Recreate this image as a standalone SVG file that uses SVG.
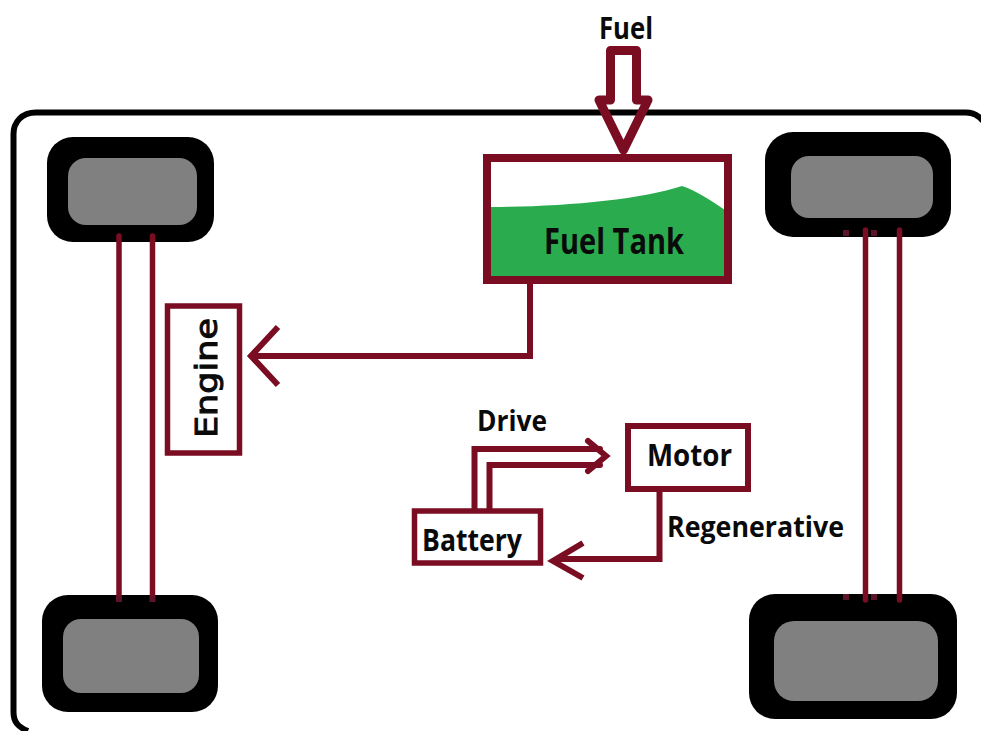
<svg xmlns="http://www.w3.org/2000/svg" width="981" height="731" viewBox="0 0 981 731">
<style>
.tire{fill:#000}
.hub{fill:#808080}
.box{fill:none;stroke:#7a0d22}
.ln{fill:none;stroke:#7a0d22;stroke-width:6}
.axle{fill:none;stroke:#7a0d22;stroke-width:5.5}
.stub{fill:none;stroke:#5c1528;stroke-width:6}
.t{font-family:"Open Sans","Noto Sans","Liberation Sans",sans-serif;font-weight:700;fill:#0a0a0a}
.e{font-family:"DejaVu Sans","Liberation Sans",sans-serif;font-weight:400;fill:#0a0a0a;stroke:#0a0a0a;stroke-width:1}
</style>
<rect width="981" height="731" fill="#fff"/>
<g id="chassis"><path d="M28 731C18 727 13.500 722 13.500 712V134C13.500 122 22 112.500 36 112.500H966C974 112.500 979 116 983 121" fill="none" stroke="#000" stroke-width="6"/></g>
<g id="wheel-front-left"><rect class="tire" x="47" y="137" width="167" height="105" rx="26"/><rect class="hub" x="68" y="158" width="129" height="67" rx="18"/></g>
<g id="wheel-rear-left"><rect class="tire" x="42" y="595" width="176" height="117" rx="26"/><rect class="hub" x="63" y="619" width="136" height="74" rx="18"/></g>
<g id="wheel-front-right"><rect class="tire" x="765" y="132" width="186" height="105" rx="28"/><rect class="hub" x="791" y="156" width="142" height="62" rx="18"/></g>
<g id="wheel-rear-right"><rect class="tire" x="749" y="594" width="208" height="125" rx="26"/><rect class="hub" x="774" y="621" width="164" height="80" rx="20"/></g>
<g id="fuel-tank"><rect x="487" y="158" width="241" height="122" fill="#fff"/><path d="M490 207C560 207 640 200 682 186C695 190 710 200 725 210V278H490Z" fill="#2aac4e"/><rect class="box" style="stroke-width:8" x="487" y="158" width="241" height="122"/><text class="t" x="544" y="254" font-size="35" textLength="140" lengthAdjust="spacingAndGlyphs">Fuel Tank</text></g>
<g id="engine"><rect class="box" style="stroke-width:5.500" x="167.500" y="306" width="72" height="147"/><text class="e" transform="translate(217 438) rotate(-90)" font-size="31" textLength="120" lengthAdjust="spacingAndGlyphs">Engine</text></g>
<g id="motor"><rect class="box" style="stroke-width:6" x="628" y="426" width="120" height="63"/><text class="t" x="647" y="466" font-size="31" textLength="85" lengthAdjust="spacingAndGlyphs">Motor</text></g>
<g id="battery"><rect class="box" style="stroke-width:5.500" x="414.500" y="511" width="126" height="52"/><text class="t" x="422" y="551" font-size="30" textLength="100" lengthAdjust="spacingAndGlyphs">Battery</text></g>
<g id="connectors">
<path class="ln" style="stroke-width:9" stroke-linejoin="round" d="M610.500 50.500H636.500V100H648L623.500 150L599 100H610.500Z"/>
<path class="ln" d="M530 284V356H252M278 327L251 356L278 385"/>
<path class="ln" stroke-linecap="round" d="M474.500 509V449H600M489.500 509V465H600M588 441L606 456L588 471"/>
<path class="ln" d="M659.500 491V559H556M583 543L553 561L583 578"/>
<path class="axle" stroke-linecap="round" d="M119 236V596M152.500 236V596"/>
<path class="stub" d="M119 596V602M152.500 596V602"/>
<path class="axle" stroke-linecap="round" d="M865.500 230V600M899.500 230V600"/>
<path class="stub" d="M846 230V236M874 230V236M846 594V600M874 594V600"/>
</g>
<g id="labels">
<text class="t" x="599" y="39" font-size="30" textLength="54" lengthAdjust="spacingAndGlyphs">Fuel</text>
<text class="t" x="477" y="431" font-size="28" textLength="70" lengthAdjust="spacingAndGlyphs">Drive</text>
<text class="t" x="667" y="537" font-size="28" textLength="177" lengthAdjust="spacingAndGlyphs">Regenerative</text>
</g>
</svg>
